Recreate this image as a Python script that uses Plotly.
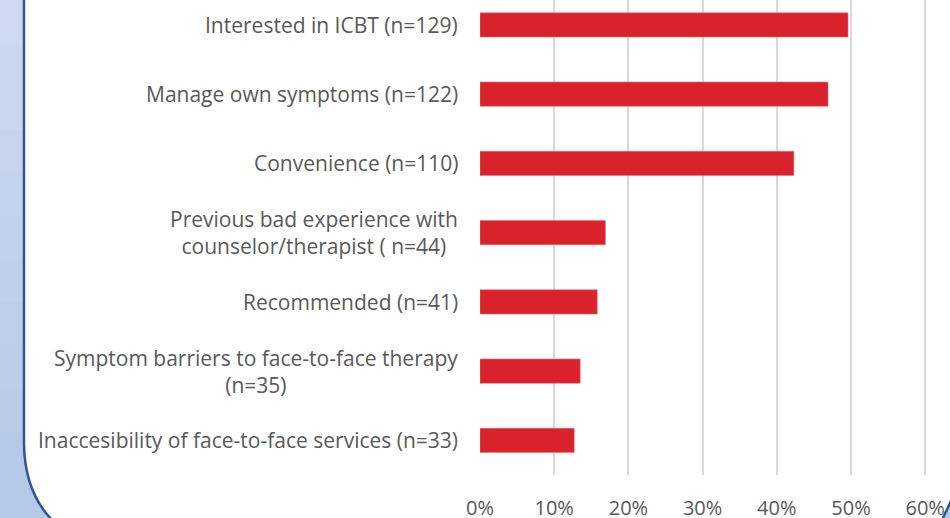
import plotly.graph_objects as go

# Data (top to bottom as shown)
categories = [
    "Interested in ICBT (n=129)",
    "Manage own symptoms (n=122)",
    "Convenience (n=110)",
    "Previous bad experience with<br>counselor/therapist ( n=44)",
    "Recommended (n=41)",
    "Symptom barriers to face-to-face therapy<br>(n=35)",
    "Inaccesibility of face-to-face services (n=33)",
]
values = [0.496, 0.469, 0.423, 0.169, 0.158, 0.135, 0.127]
x_tick_vals = [0, 0.1, 0.2, 0.3, 0.4, 0.5, 0.6]
x_tick_text = ["0%", "10%", "20%", "30%", "40%", "50%", "60%"]

W, H = 950, 518
L, R, T, B = 480, 933, 0, 475

def px(x):
    return (x - L) / (R - L)

def py(y):
    return (B - y) / (B - T)

FONT = "Open Sans"
FS = 21
GRAY = "#595959"

fig = go.Figure()
fig.add_trace(go.Bar(
    x=values, y=categories, orientation="h",
    marker=dict(color="#D9222C", line=dict(color="#E8727A", width=0.6)),
    width=0.35, hoverinfo="skip",
))

shapes = []
# left gradient strip (stacked bands)
bands = 12
c_top = (205, 218, 240)
c_bot = (180, 199, 231)
for i in range(bands):
    y0 = H * i / bands
    y1 = H * (i + 1) / bands + 2
    t = (i + 0.5) / bands
    c = tuple(round(c_top[k] + (c_bot[k] - c_top[k]) * t) for k in range(3))
    col = "rgb(%d,%d,%d)" % c
    shapes.append(dict(type="rect", xref="paper", yref="paper",
                       x0=px(-2), x1=px(60), y0=py(y1), y1=py(y0),
                       fillcolor=col, line=dict(width=0), layer="below"))
# white area right of the border
path_white = "M %f,%f L %f,%f Q %f,%f %f,%f L %f,%f L %f,%f Z" % (
    px(24), py(-2), px(24), py(445),
    px(25), py(492), px(52), py(520),
    px(70), py(520), px(70), py(-2))
shapes.append(dict(type="path", xref="paper", yref="paper", path=path_white,
                   fillcolor="white", line=dict(width=0), layer="below"))
# border line
path_line = "M %f,%f L %f,%f Q %f,%f %f,%f" % (
    px(24), py(-2), px(24), py(445), px(25), py(492), px(52), py(520))
shapes.append(dict(type="path", xref="paper", yref="paper", path=path_line,
                   line=dict(color="#2F5597", width=2.5), layer="above"))
# bottom-right corner
path_br = "M %f,%f L %f,%f L %f,%f Z" % (px(942), py(520), px(951), py(501), px(951), py(520))
shapes.append(dict(type="path", xref="paper", yref="paper", path=path_br,
                   fillcolor="rgb(180,199,231)", line=dict(width=0), layer="above"))
shapes.append(dict(type="line", xref="paper", yref="paper",
                   x0=px(942), y0=py(520), x1=px(951), y1=py(501),
                   line=dict(color="#2F5597", width=2.5), layer="above"))

annotations = []
for c in categories:
    annotations.append(dict(
        x=0, y=c, xref="x", yref="y", text=c, showarrow=False,
        xanchor="right", yanchor="middle", align="center", xshift=-20,
        font=dict(family=FONT, size=FS, color=GRAY),
    ))

fig.update_layout(
    width=W, height=H,
    margin=dict(l=L, r=W - R, t=T, b=H - B, pad=0, autoexpand=False),
    paper_bgcolor="white", plot_bgcolor="white",
    showlegend=False,
    shapes=shapes,
    annotations=annotations,
    xaxis=dict(
        range=[0, (R - L) / 742.0],
        tickvals=x_tick_vals, ticktext=x_tick_text,
        showgrid=True, gridcolor="#D9D9D9", gridwidth=1.5,
        zeroline=False, showline=False, ticks="",
        ticklabelstandoff=19, automargin=False,
        tickfont=dict(family=FONT, size=20, color=GRAY),
    ),
    yaxis=dict(
        type="category", categoryorder="array", categoryarray=categories,
        range=[6.5, -0.36], automargin=False,
        showticklabels=False, showgrid=False, zeroline=False, showline=False,
    ),
)

fig.write_html("out.html", config={"displayModeBar": False},
               post_script="document.body.style.margin='0';document.body.style.overflow='hidden';")
